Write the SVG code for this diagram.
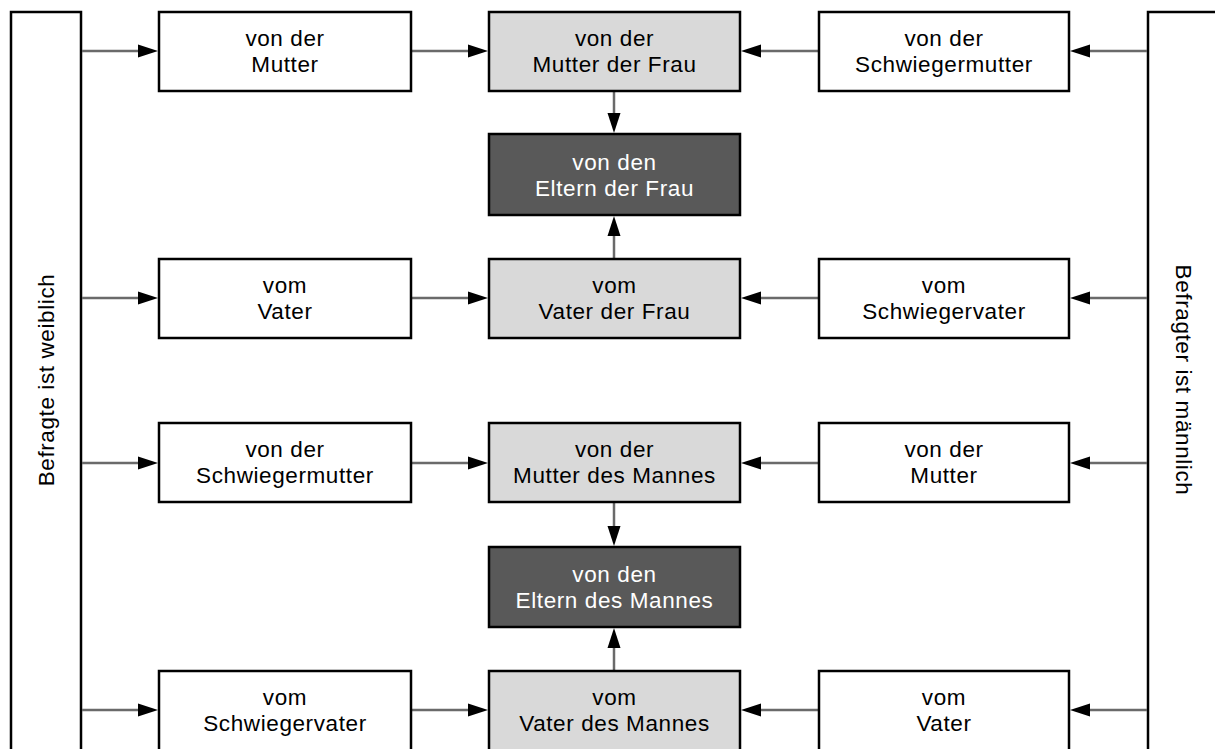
<svg xmlns="http://www.w3.org/2000/svg" width="1215" height="749" viewBox="0 0 1215 749">
<style>
.box{stroke:#000;stroke-width:2.5}
.w{fill:#fff}
.g{fill:#d9d9d9}
.d{fill:#595959}
text{font-family:"Liberation Sans",Arial,sans-serif;font-size:22.5px;letter-spacing:0.6px;text-anchor:middle}
.t{fill:#000}
.tw{fill:#fff}
.c{stroke:#6a6a6a;stroke-width:2.5;fill:none;marker-end:url(#ah)}
</style>
<defs>
<marker id="ah" markerUnits="userSpaceOnUse" markerWidth="20" markerHeight="14" refX="2" refY="7" orient="auto">
<path d="M0,0.5 L20,7 L0,13.5 z" fill="#000"/>
</marker>
</defs>
<rect width="1215" height="749" fill="#fff"/>
<g id="bar-left">
<rect class="box w" x="11" y="12" width="70" height="800"/>
<text class="t" transform="translate(54,380) rotate(-90)">Befragte ist weiblich</text>
</g>
<g id="bar-right">
<rect class="box w" x="1148" y="12" width="70" height="800"/>
<text class="t" transform="translate(1176,380) rotate(90)">Befragter ist männlich</text>
</g>
<g id="connectors">
<path class="c" d="M82,51 H140"/>
<path class="c" d="M412,51 H470"/>
<path class="c" d="M1147,51 H1088"/>
<path class="c" d="M818,51 H759"/>
<path class="c" d="M82,298 H140"/>
<path class="c" d="M412,298 H470"/>
<path class="c" d="M1147,298 H1088"/>
<path class="c" d="M818,298 H759"/>
<path class="c" d="M82,463 H140"/>
<path class="c" d="M412,463 H470"/>
<path class="c" d="M1147,463 H1088"/>
<path class="c" d="M818,463 H759"/>
<path class="c" d="M82,710 H140"/>
<path class="c" d="M412,710 H470"/>
<path class="c" d="M1147,710 H1088"/>
<path class="c" d="M818,710 H759"/>
<path class="c" d="M614,92 V115"/>
<path class="c" d="M614,258 V234"/>
<path class="c" d="M614,503 V528"/>
<path class="c" d="M614,670 V646"/>
</g>
<g id="n-r1c1"><rect class="box w" x="159" y="12" width="252" height="79"/><text class="t" x="285" y="46">von der</text><text class="t" x="285" y="72">Mutter</text></g>
<g id="n-r1c2"><rect class="box g" x="489" y="12" width="251" height="79"/><text class="t" x="614.5" y="46">von der</text><text class="t" x="614.5" y="72">Mutter der Frau</text></g>
<g id="n-r1c3"><rect class="box w" x="819" y="12" width="250" height="79"/><text class="t" x="944" y="46">von der</text><text class="t" x="944" y="72">Schwiegermutter</text></g>
<g id="n-d1"><rect class="box d" x="489" y="134" width="251" height="81"/><text class="tw" x="614.5" y="170">von den</text><text class="tw" x="614.5" y="196">Eltern der Frau</text></g>
<g id="n-r2c1"><rect class="box w" x="159" y="259" width="252" height="79"/><text class="t" x="285" y="293">vom</text><text class="t" x="285" y="319">Vater</text></g>
<g id="n-r2c2"><rect class="box g" x="489" y="259" width="251" height="79"/><text class="t" x="614.5" y="293">vom</text><text class="t" x="614.5" y="319">Vater der Frau</text></g>
<g id="n-r2c3"><rect class="box w" x="819" y="259" width="250" height="79"/><text class="t" x="944" y="293">vom</text><text class="t" x="944" y="319">Schwiegervater</text></g>
<g id="n-r3c1"><rect class="box w" x="159" y="423" width="252" height="79"/><text class="t" x="285" y="457">von der</text><text class="t" x="285" y="483">Schwiegermutter</text></g>
<g id="n-r3c2"><rect class="box g" x="489" y="423" width="251" height="79"/><text class="t" x="614.5" y="457">von der</text><text class="t" x="614.5" y="483">Mutter des Mannes</text></g>
<g id="n-r3c3"><rect class="box w" x="819" y="423" width="250" height="79"/><text class="t" x="944" y="457">von der</text><text class="t" x="944" y="483">Mutter</text></g>
<g id="n-d2"><rect class="box d" x="489" y="547" width="251" height="80"/><text class="tw" x="614.5" y="582">von den</text><text class="tw" x="614.5" y="608">Eltern des Mannes</text></g>
<g id="n-r4c1"><rect class="box w" x="159" y="671" width="252" height="80"/><text class="t" x="285" y="705">vom</text><text class="t" x="285" y="731">Schwiegervater</text></g>
<g id="n-r4c2"><rect class="box g" x="489" y="671" width="251" height="80"/><text class="t" x="614.5" y="705">vom</text><text class="t" x="614.5" y="731">Vater des Mannes</text></g>
<g id="n-r4c3"><rect class="box w" x="819" y="671" width="250" height="80"/><text class="t" x="944" y="705">vom</text><text class="t" x="944" y="731">Vater</text></g>
</svg>
